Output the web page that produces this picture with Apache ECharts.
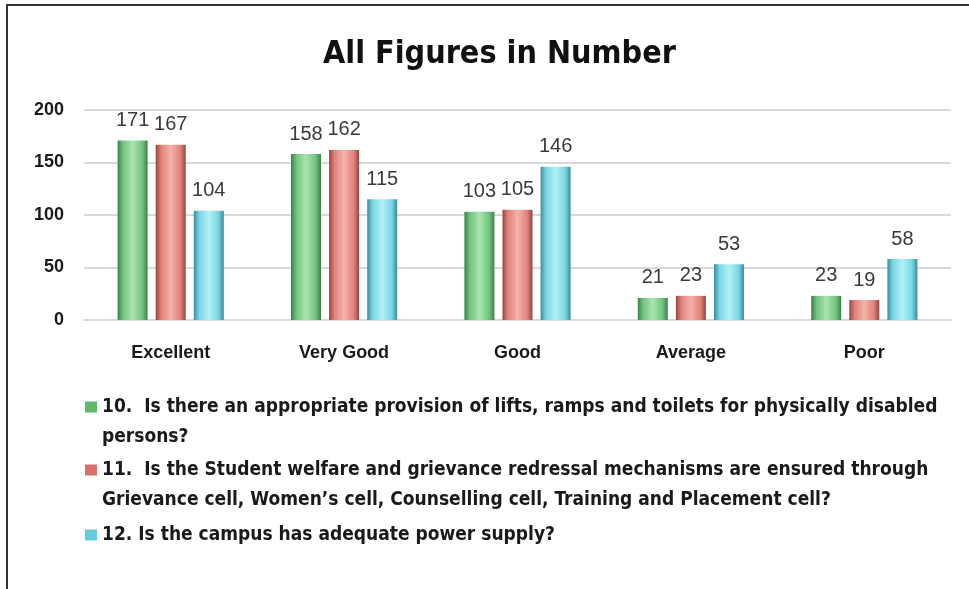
<!DOCTYPE html>
<html>
<head>
<meta charset="utf-8">
<script src="https://cdn.jsdelivr.net/npm/echarts@6/dist/echarts.min.js"></script>
<style>
html,body{margin:0;padding:0;background:#fff;}
#main{width:969px;height:589px;}
</style>
</head>
<body>
<div id="main"></div>
<script>
var categories = ['Excellent', 'Very Good', 'Good', 'Average', 'Poor'];
var q10 = [171, 158, 103, 21, 23];
var q11 = [167, 162, 105, 23, 19];
var q12 = [104, 115, 146, 53, 58];
var seriesNames = [
	'10.  Is there an appropriate provision of lifts, ramps and toilets for physically disabled\npersons?',
	'11.  Is the Student welfare and grievance redressal mechanisms are ensured through\nGrievance cell, Women\u2019s cell, Counselling cell, Training and Placement cell?',
	'12. Is the campus has adequate power supply?'
];
var yTicks = [0, 50, 100, 150, 200];

// bevel look: dark edges, light middle
function bevel(dark, base, light){
	return new echarts.graphic.LinearGradient(0, 0, 1, 0, [
		{offset: 0, color: dark},
		{offset: 0.18, color: base},
		{offset: 0.5, color: light},
		{offset: 0.82, color: base},
		{offset: 1, color: dark}
	]);
}
var colGreen = bevel('#3f7f4a', '#72c47f', '#a9e4ad');
var colRed = bevel('#94463f', '#e0837b', '#f4b2ab');
var colCyan = bevel('#3a8d99', '#78d6e2', '#b3f0f6');

function makeSeries(name, data, color){
	return {
		name: name,
		type: 'bar',
		data: data,
		barWidth: 30,
		barGap: '27%',
		itemStyle: {color: color},
		label: {
			show: true,
			position: 'top',
			distance: 10,
			color: '#3a3a3a',
			fontSize: 20,
			fontFamily: 'Liberation Sans'
		}
	};
}

function legendFor(i, top, color, twoLines){
	return {
		orient: 'vertical',
		left: 80,
		top: top,
		data: [{name: seriesNames[i], itemStyle: {color: color}}],
		itemWidth: 12,
		itemHeight: 11,
		itemGap: 4,
		icon: 'rect',
		selectedMode: false,
		// blank first line so the icon sits beside the first text line
		formatter: function(n){ return twoLines ? '\u00a0\n' + n : n; },
		textStyle: {
			color: '#1a1a1a',
			fontSize: 19,
			fontFamily: 'DejaVu Sans Condensed',
			fontWeight: 'bold',
			lineHeight: 30
		}
	};
}

var chart = echarts.init(document.getElementById('main'));
var option = {
	backgroundColor: '#fff',
	animation: false,
	title: {
		text: 'All Figures in Number',
		left: 318,
		top: 34,
		textStyle: {
			color: '#111',
			fontSize: 32,
			fontFamily: 'DejaVu Sans Condensed',
			fontWeight: 'bold'
		}
	},
	graphic: [{
		type: 'rect',
		shape: {x: 7, y: 5, width: 1000, height: 700},
		style: {fill: 'none', stroke: '#333', lineWidth: 2}
	}],
	grid: {left: 84, right: 18, top: 110, bottom: 269},
	xAxis: {
		type: 'category',
		data: categories,
		axisLine: {show: true, lineStyle: {color: '#d9d9d9', width: 2}},
		axisTick: {show: false},
		axisLabel: {
			color: '#1a1a1a',
			fontSize: 18,
			fontFamily: 'Liberation Sans',
			fontWeight: 'bold',
			margin: 24
		}
	},
	yAxis: {
		type: 'value',
		min: yTicks[0],
		max: yTicks[yTicks.length - 1],
		interval: 50,
		axisLine: {show: false},
		axisTick: {show: false},
		splitLine: {lineStyle: {color: '#d9d9d9', width: 2}},
		axisLabel: {
			color: '#1a1a1a',
			fontSize: 18,
			fontFamily: 'Liberation Sans',
			fontWeight: 'bold',
			margin: 20
		}
	},
	legend: [
		legendFor(0, 357, '#5fb86c', true),
		legendFor(1, 420, '#d9716a', true),
		legendFor(2, 515, '#63cdd9', false)
	],
	series: [
		makeSeries(seriesNames[0], q10, colGreen),
		makeSeries(seriesNames[1], q11, colRed),
		makeSeries(seriesNames[2], q12, colCyan)
	]
};
chart.setOption(option);
</script>
</body>
</html>
